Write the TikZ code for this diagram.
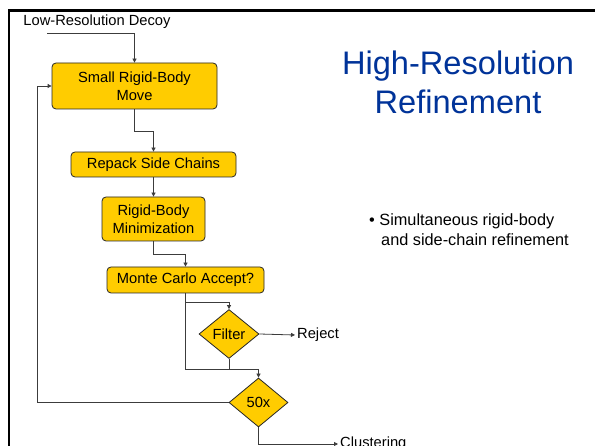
\documentclass[tikz,border=0pt]{standalone}
\usepackage{fontspec}
\setmainfont{Liberation Sans}
\usetikzlibrary{shapes.geometric,arrows.meta}
\definecolor{stepyellow}{RGB}{255,204,0}
\definecolor{titleblue}{RGB}{0,51,153}
\definecolor{wire}{RGB}{60,60,60}
\tikzset{
  stepbox/.style={draw=black!85,line width=0.8pt,fill=stepyellow,rounded corners=4pt,
    align=center,inner sep=0pt,font=\fontsize{14.7}{18}\selectfont},
  testbox/.style={draw=black!85,line width=0.8pt,fill=stepyellow,diamond,inner sep=0pt,
    font=\fontsize{14.7}{18}\selectfont},
  flow/.style={draw=wire,line width=0.8pt,-{Triangle[length=4pt,width=4pt]}},
  plain/.style={font=\fontsize{14.7}{18}\selectfont,inner sep=2pt}
}

\begin{document}
\begin{tikzpicture}[x=1pt,y=-1pt]
  \useasboundingbox[fill=white] (0,0) rectangle (595,446);
  %slide frame
  \draw[line width=2.2pt] (600,10.5) -| (8.7,452);

  %steps of the loop
  \node[stepbox,minimum width=165pt,minimum height=46pt] (move) at (134.5,86) {Small Rigid-Body\\Move};
  \node[stepbox,minimum width=165pt,minimum height=25pt] (repack) at (153.5,164.5) {Repack Side Chains};
  \node[stepbox,minimum width=103pt,minimum height=44pt] (minim) at (153.5,219) {Rigid-Body\\Minimization};
  \node[stepbox,minimum width=157pt,minimum height=26pt] (mcacc) at (185.5,280) {Monte Carlo Accept?};
  \node[testbox,minimum width=60pt,minimum height=49pt] (filter) at (229,334) {Filter};
  \node[testbox,minimum width=59pt,minimum height=49pt] (cnt) at (258.5,402.5) {50x};

  %loose ends
  \node[plain] (decoy) at (97,22) {Low-Resolution Decoy};
  \node[plain,anchor=west] (reject) at (295,335) {Reject};
  \node[plain,anchor=west] (clust) at (338,444) {Clustering};
  \coordinate (dstart) at (47,33);
  \coordinate (join) at (258.5,369);
  \coordinate (back) at (37,402.5);

  \draw[flow] (dstart) -| (move.north);
  \draw[flow] (move.south) -- ++(0,22) -| (repack.north);
  \draw[flow] (repack.south) -- (minim.north);
  \draw[flow] (minim.south) -- ++(0,13) -| (mcacc.north);
  \draw[flow] (mcacc.south) -- ++(0,9) -| (filter.north);
  \draw[draw=wire,line width=0.8pt] (mcacc.south) |- (join);
  \draw[flow] (filter.south) |- (join) -- (cnt.north);
  \draw[flow] (filter.east) -- (reject.west);
  \draw[flow] (cnt.west) -- (back) |- (move.west);
  \draw[flow] (cnt.south) |- (clust.west);

  %title and note
  \node[titleblue,align=center,font=\fontsize{32.6}{39}\selectfont] (title) at (458,82) {High-Resolution\\Refinement};
  \node[anchor=west,align=left,inner sep=0pt,font=\fontsize{16.3}{20}\selectfont] (note) at (369,230)
    {\textbullet\ Simultaneous rigid-body\\\hspace*{12pt}and side-chain refinement};
\end{tikzpicture}
\end{document}
